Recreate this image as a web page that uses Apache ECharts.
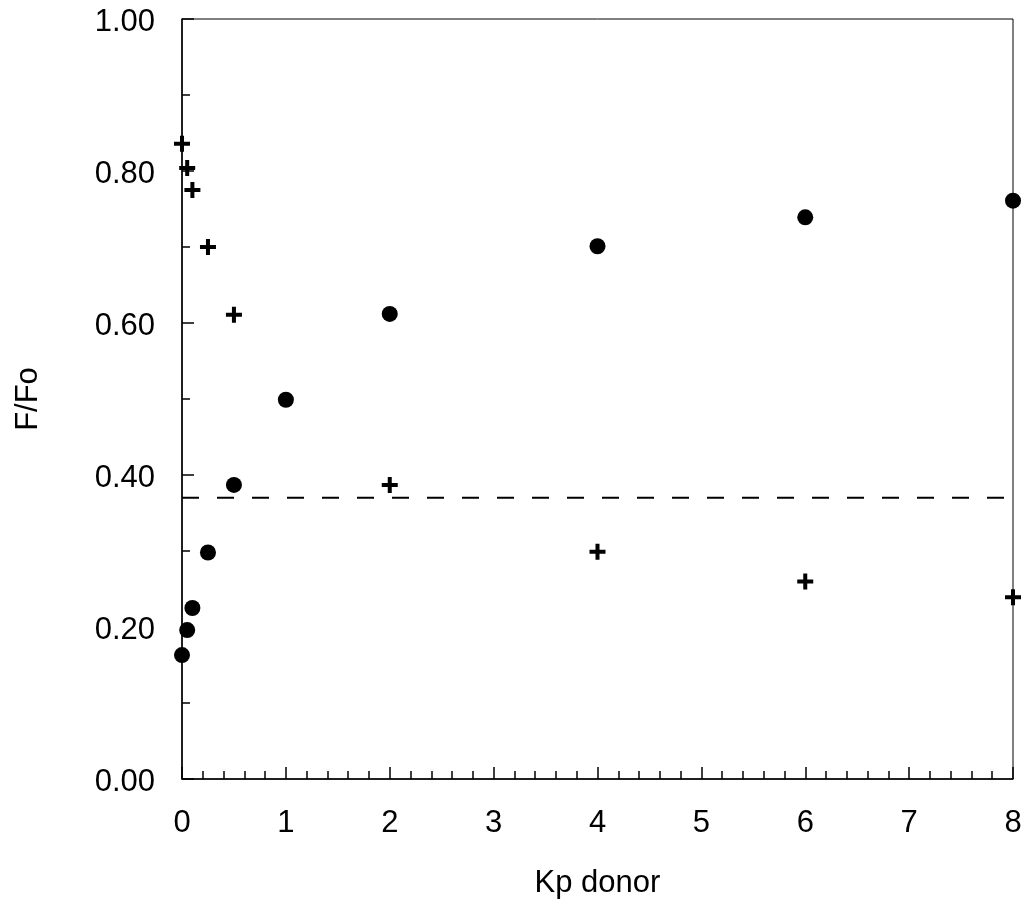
<!DOCTYPE html>
<html>
<head>
<meta charset="utf-8">
<script src="https://cdn.jsdelivr.net/npm/echarts@6/dist/echarts.min.js"></script>
<style>
html,body{margin:0;padding:0;background:#fff;}
#chart{width:1029px;height:911px;}
</style>
</head>
<body>
<div id="chart"></div>
<script>
// Data
var kpValues = [0, 0.05, 0.1, 0.25, 0.5, 1, 2, 4, 6, 8];
var circleValues = [0.163, 0.196, 0.225, 0.298, 0.387, 0.499, 0.612, 0.701, 0.739, 0.761];
var crossKp = [0, 0.05, 0.1, 0.25, 0.5, 2, 4, 6, 8];
var crossValues = [0.836, 0.804, 0.775, 0.700, 0.611, 0.387, 0.299, 0.260, 0.239];
var thresholdValue = 0.37;
var xRange = [0, 8];
var xAxisName = 'Kp donor';
var yAxisName = 'F/Fo';

var font = '"Liberation Sans", Arial, sans-serif';
var crossPath = 'path://M6,0h4v6h6v4h-6v6h-4v-6h-6v-4h6z';

var chart = echarts.init(document.getElementById('chart'), null, {renderer: 'canvas'});
chart.setOption({
  animation: false,
  backgroundColor: '#fff',
  grid: {left: 182, right: 16, top: 19, bottom: 132, show: true, borderColor: '#000', borderWidth: 1, backgroundColor: 'transparent'},
  xAxis: {
    type: 'value', min: xRange[0], max: xRange[1], interval: 1,
    name: xAxisName, nameLocation: 'middle', nameGap: 89,
    nameTextStyle: {fontFamily: font, fontSize: 31, color: '#000'},
    axisLine: {show: true, onZero: false, lineStyle: {color: '#000', width: 1.5}},
    axisTick: {show: true, inside: true, length: 12, lineStyle: {color: '#000', width: 1.5}},
    minorTick: {show: true, splitNumber: 5, length: 8, lineStyle: {color: '#000', width: 1.5}},
    axisLabel: {fontFamily: font, fontSize: 31, color: '#000', margin: 29},
    splitLine: {show: false}
  },
  yAxis: {
    type: 'value', min: 0, max: 1, interval: 0.2,
    name: yAxisName, nameLocation: 'middle', nameGap: 138,
    nameTextStyle: {fontFamily: font, fontSize: 31, color: '#000'},
    axisLine: {show: true, onZero: false, lineStyle: {color: '#000', width: 1.5}},
    axisTick: {show: true, inside: true, length: 12, lineStyle: {color: '#000', width: 1.5}},
    minorTick: {show: true, splitNumber: 2, length: 8, lineStyle: {color: '#000', width: 1.5}},
    axisLabel: {fontFamily: font, fontSize: 31, color: '#000', margin: 27,
      formatter: function (v) { return '{a|' + v.toFixed(2) + '}'; },
      rich: {a: {fontFamily: font, fontSize: 31, color: '#000', padding: [7, 0, 0, 0]}}},
    splitLine: {show: false}
  },
  series: [
    {
      type: 'line',
      data: [[xRange[0], thresholdValue], [xRange[1], thresholdValue]],
      symbol: 'none',
      lineStyle: {color: '#000', width: 2, type: [17, 18]},
      silent: true, z: 1
    },
    {
      type: 'scatter',
      data: kpValues.map(function (k, i) { return [k, circleValues[i]]; }),
      symbol: 'circle', symbolSize: 16,
      itemStyle: {color: '#000', opacity: 1}, z: 3
    },
    {
      type: 'scatter',
      data: crossKp.map(function (k, i) { return [k, crossValues[i]]; }),
      symbol: crossPath, symbolSize: 16,
      itemStyle: {color: '#000', opacity: 1}, z: 3
    }
  ]
});
</script>
</body>
</html>
